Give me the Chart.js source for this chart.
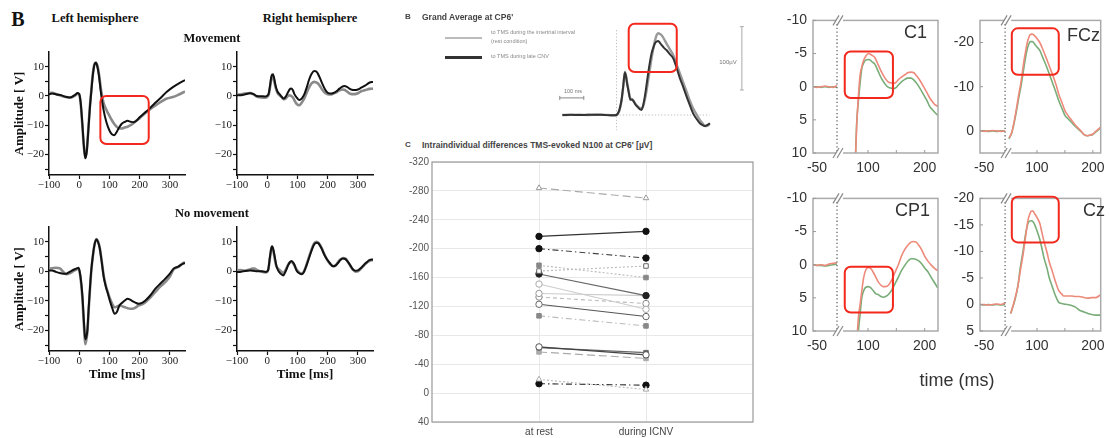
<!DOCTYPE html>
<html>
<head>
<meta charset="utf-8">
<script src="https://cdn.jsdelivr.net/npm/chart.js@4.4.1/dist/chart.umd.min.js"></script>
<style>
  html, body { margin: 0; padding: 0; background: #fff; width: 1110px; height: 438px; overflow: hidden; }
  canvas { position: absolute; }
  .t { position: absolute; white-space: nowrap; line-height: 1; }
  .c { transform: translate(-50%, -50%); }
  .m { transform: translateY(-50%); }
  .r { transform: translate(-100%, -50%); }
  .serif { font-family: "Liberation Serif", "DejaVu Serif", serif; font-weight: bold; color: #111; }
  .sans { font-family: "Liberation Sans", Arial, sans-serif; }
</style>
</head>
<body>
<!-- left panel -->
<canvas id="lhMove" width="176" height="145" style="left:12px;top:44px"></canvas>
<canvas id="rhMove" width="170" height="145" style="left:205px;top:44px"></canvas>
<canvas id="lhRest" width="176" height="165" style="left:12px;top:219px"></canvas>
<canvas id="rhRest" width="170" height="165" style="left:205px;top:219px"></canvas>
<!-- middle panel -->
<canvas id="grandAvg" width="197" height="114" style="left:554px;top:20px"></canvas>
<canvas id="n100" width="370" height="292" style="left:395px;top:150px"></canvas>
<!-- right panel -->
<canvas id="c1" width="170" height="172" style="left:775px;top:6px"></canvas>
<canvas id="fcz" width="170" height="172" style="left:942px;top:6px"></canvas>
<canvas id="cp1" width="170" height="172" style="left:775px;top:184px"></canvas>
<canvas id="cz" width="170" height="172" style="left:942px;top:184px"></canvas>

<div class="t c serif" style="left:18px;top:19px;font-size:20px">B</div>
<div class="t c serif" style="left:95px;top:18px;font-size:12.5px">Left hemisphere</div>
<div class="t c serif" style="left:310px;top:18px;font-size:12.5px">Right hemisphere</div>
<div class="t c serif" style="left:212px;top:38px;font-size:12.5px">Movement</div>
<div class="t c serif" style="left:212px;top:213px;font-size:12.5px">No movement</div>

<div class="t m sans" style="left:405px;top:17px;font-size:8px;font-weight:bold;color:#444">B</div>
<div class="t m sans" style="left:422px;top:17px;font-size:8.5px;font-weight:bold;color:#444">Grand Average at CP6'</div>
<div style="position:absolute;left:445px;top:37px;width:37px;height:1.5px;background:#bbb"></div>
<div style="position:absolute;left:445px;top:56px;width:37px;height:2.5px;background:#333"></div>
<div class="t m sans" style="left:491px;top:33px;font-size:5.5px;color:#888">to TMS during the intertrial interval</div>
<div class="t m sans" style="left:491px;top:42px;font-size:5.5px;color:#888">(rest condition)</div>
<div class="t m sans" style="left:491px;top:57px;font-size:5.5px;color:#888">to TMS during late CNV</div>
<div class="t c sans" style="left:573px;top:92px;font-size:5.5px;color:#777">100 ms</div>
<div class="t c sans" style="left:728px;top:62px;font-size:6px;color:#777">100µV</div>
<div class="t m sans" style="left:405px;top:145px;font-size:8px;font-weight:bold;color:#444">C</div>
<div class="t m sans" style="left:422px;top:145px;font-size:8.5px;font-weight:bold;color:#444">Intraindividual differences TMS-evoked N100 at CP6' [µV]</div>

<div class="t r sans" style="left:927px;top:32px;font-size:18px;color:#333">C1</div>
<div class="t r sans" style="left:1100px;top:35px;font-size:18px;color:#333">FCz</div>
<div class="t r sans" style="left:930px;top:210px;font-size:18px;color:#333">CP1</div>
<div class="t r sans" style="left:1105px;top:210px;font-size:18px;color:#333">Cz</div>
<div class="t c sans" style="left:957px;top:380px;font-size:18px;color:#333">time (ms)</div>

<script>
// ---- left panel: amplitude (µV) over time (ms), black and gray trace ----
const lhMoveTime = [-100, -90, -75, -58, -45, -30, -15, -5, 0, 5, 10, 15, 20, 25, 30, 35, 40, 45, 50, 55, 60, 65, 72, 80, 90, 100, 108, 116, 124, 132, 140, 150, 160, 170, 180, 190, 200, 215, 230, 250, 270, 290, 310, 330, 350];
const lhMoveBlack = [0.6, 0.8, 0.5, 0.2, -0.3, -0.5, 0.3, 1.0, 0.6, -2.5, -9, -16.5, -21.3, -19, -12, -4.5, 1.5, 7, 10.5, 11.3, 10, 7, 1, -4.5, -9, -11.8, -13.1, -13.4, -12.3, -10.8, -9.6, -8.9, -8.5, -8.8, -9, -8.4, -7.3, -5.9, -4.6, -2.5, -0.6, 1.4, 3, 4.3, 5.4];
const lhMoveGray = [0.9, 1.1, 0.6, 0, -0.4, -0.6, 0, 0.8, 0.5, -2.8, -9.5, -17, -21, -18.5, -11.5, -4, 2, 7.5, 10.8, 11.4, 10.4, 7.8, 2.2, -2.2, -4.8, -6.8, -8.3, -9.6, -10.5, -11.1, -11.1, -10.8, -10.5, -10, -9.2, -8.4, -7.6, -6.2, -4.9, -3.4, -2, -0.9, -0.4, 0.5, 1.5];

const rhMoveTime = [-100, -90, -75, -57, -45, -35, -20, -8, 0, 5, 10, 14, 19, 24, 28, 34, 41, 48, 55, 62, 68, 74, 79, 85, 90, 98, 106, 114, 123, 131, 139, 147, 156, 162, 167, 175, 183, 191, 200, 210, 217, 228, 239, 247, 255, 264, 272, 280, 289, 300, 311, 325, 338, 350];
const rhMoveBlack = [0.2, 0.2, 0.5, 0.9, 0.6, 0, -0.1, -0.2, 0.1, 0.8, 4, 6.8, 7.4, 5.5, 3.4, 1.5, 0.6, -0.3, -0.9, -0.1, 1.1, 2.2, 2.5, 1.9, 0.6, -0.6, -1.4, -0.9, 0.6, 3, 5.7, 7.6, 8.5, 8.4, 7.7, 6, 4, 2.3, 1.1, 0.8, 0.9, 1.5, 2.5, 3.1, 3.4, 3.1, 2.5, 2.1, 2, 2.2, 2.8, 3.6, 4.5, 4.8];
const rhMoveGray = [0.4, 0.5, 0.8, 1, 0.5, -0.2, -0.5, -0.6, -0.3, 0.5, 3.5, 6, 6.6, 4.6, 2.8, 1, 0.2, -0.5, -1.1, -0.8, 0, 0.2, 0, -0.5, -1.5, -2.8, -3.2, -2.3, -0.8, 1.2, 3, 4.3, 4.8, 4.6, 4.3, 3.3, 2, 1.1, 0.6, 0.5, 0.7, 1.2, 1.9, 2.2, 2.1, 1.5, 0.9, 0.6, 0.6, 0.9, 1.6, 2, 2.4, 2.5];

const lhRestTime = [-100, -90, -77, -64, -53, -43, -30, -17, -8, -2, 3, 7, 11, 14, 17, 20, 23, 27, 31, 35, 40, 46, 51, 57, 62, 68, 74, 81, 88, 95, 102, 109, 117, 124, 133, 144, 152, 160, 168, 176, 186, 196, 208, 219, 235, 252, 268, 285, 300, 312, 328, 344, 350];
const lhRestBlack = [0.3, 0.3, -0.2, -0.6, -0.8, -0.8, -0.1, 0.6, 1.0, 1.2, -1, -4.2, -9, -14.4, -19.5, -23, -22.5, -20, -13, -6.5, 0.5, 6, 9.2, 10.8, 10, 7.7, 3.5, -1.9, -5.2, -7.6, -10.2, -12.4, -14.4, -13.9, -11.6, -10.5, -9.8, -9.3, -9.6, -10.1, -10.6, -11, -10.7, -9.9, -8.2, -5.9, -4.2, -2.5, -0.8, 0.9, 1.6, 2.6, 2.8];
const lhRestGray = [0.9, 1.0, 1.2, 1.0, -0.2, -1.0, -0.6, 0.2, 0.7, 0.9, -1.2, -4.8, -10, -15.5, -21, -24.7, -23.5, -20.5, -13.5, -7, 0.3, 5.8, 9.2, 10.9, 10.2, 7.9, 3.8, -1.5, -4.8, -7.2, -9.3, -11, -12.2, -12, -11.6, -11.9, -12.2, -12.5, -12.7, -12.7, -12.3, -11.6, -11.2, -10.5, -8.9, -7, -5.2, -3.6, -1.8, 0.6, 1.5, 2.8, 3];

const rhRestTime = [-100, -90, -75, -57, -50, -42, -35, -20, -4, 3, 9, 13, 16, 20, 25, 30, 36, 44, 53, 61, 69, 75, 80, 88, 97, 105, 113, 121, 130, 140, 149, 156, 163, 170, 180, 188, 196, 207, 218, 226, 234, 242, 251, 259, 267, 275, 284, 292, 300, 311, 322, 330, 338, 350];
const rhRestBlack = [-0.2, -0.2, 0.1, 0.3, 0.2, 0.1, 0, 0, -0.2, 0.5, 4.9, 7.5, 8.5, 7.5, 4.9, 2, 0.3, -0.8, -1.4, 0, 2, 3.1, 3.5, 2.6, 0.3, -0.6, -1, -0.3, 2, 5, 7.7, 9.2, 9.7, 9.4, 7.7, 5.8, 4.3, 2.8, 1.7, 1.9, 2.8, 3.8, 4.3, 4.1, 3.2, 2, 0.6, 0.2, 0.3, 1.2, 2.4, 3.1, 3.8, 4];
const rhRestGray = [0.3, 0.4, 0.2, 0.6, 0.9, 0.9, 0.5, -0.1, -0.4, 0.3, 4.5, 7.5, 8.3, 7, 4.2, 1.8, 0.9, 0.1, -0.6, 0.5, 2.2, 3, 3.2, 2.4, 0.6, -0.3, -0.8, -0.2, 2.2, 5.4, 8, 9.6, 10, 9.6, 7.9, 6, 4.3, 2.6, 1.7, 2, 3, 4, 4.5, 4.3, 3.2, 1.8, 0.5, -0.1, 0, 1, 2.2, 3, 3.5, 3.8];

const eegTimeTicks = [-100, 0, 100, 200, 300];
const eegAmpTicks = [-25, -20, -15, -10, -5, 0, 5, 10];

// ---- middle panel: grand average at CP6' (µV, ms) ----
const gaTime = [-225, -190, -153, -120, -83, -50, -14, 0, 5, 12, 21, 28, 35, 40, 44, 50, 58, 65, 72, 80, 90, 97, 104, 111, 118, 125, 132, 139, 146, 153, 160, 167, 174, 181, 188, 198, 208, 222, 236, 250, 264, 278, 292, 305, 319, 333, 347, 358, 368, 378, 389];
const gaCnv = [0, 0.3, 0, 0.3, 0.5, 0, -0.5, 0, 2, 8, 23.7, 45, 67, 60, 50, 38, 24, 24, 21, 16, 12, 9, 8, 15, 29, 47, 66, 83, 97, 106, 113, 116, 117, 114, 110.5, 106, 102.6, 96, 89.5, 75, 58, 44, 29, 16, 2.6, -6, -13, -16, -17.4, -16, -13];
const gaRest = [0, 0.2, 0.3, 0, 0.4, 0.2, -0.3, 0, 1.5, 7, 22, 44, 68, 62, 52, 40, 26, 25, 22, 17, 13, 11, 10, 14, 24, 38, 55, 72, 89.5, 104, 117, 126, 129, 128, 126, 120, 113, 104, 94.7, 80, 65.8, 51, 36.8, 23, 10.5, 1, -7.9, -13, -17.4, -17, -14];

// ---- middle panel: N100 per subject, at rest vs during lCNV ----
const conditionLabels = ['at rest', 'during ICNV'];
const subjectRest = [-284, -217, -200, -177, -169, -165, -151, -138, -133, -123, -107, -64, -63, -57, -19, -13];
const subjectIcnv = [-270, -224, -187, -160, -176, -135, -116, -135, -124, -106, -93, -53, -56, -48, -5, -11];
const n100Ticks = [-320, -280, -240, -200, -160, -120, -80, -40, 0, 40];

// ---- right panel: red and green trace per electrode (µV, ms) ----
const c1Time = [-60, -50, -40, -30, -20, -10, 0, 20, 77, 80, 83, 86, 89, 92, 96, 101, 104, 108, 112, 118, 124, 130, 136, 140, 145, 150, 154, 160, 165, 170, 176, 181, 186, 192, 198, 204, 209, 214, 218, 224];
const c1Red = [0, 0.1, 0, -0.1, 0, 0.1, -0.2, null, 13, 6, 1.5, -1.7, -3, -3.9, -4.6, -5, -4.9, -4.7, -4.4, -3.3, -2.2, -1.3, -0.7, -0.6, -0.5, -0.7, -1.1, -1.5, -1.8, -2.1, -2.2, -2.1, -1.6, -0.9, 0, 0.9, 1.7, 2.3, 2.7, 3];
const c1Green = [0, 0, 0.1, 0, 0.1, 0, 0.1, null, 13, 5.5, 2.2, -0.5, -2.7, -3.5, -4, -4.1, -4, -3.7, -3.4, -2.3, -1.2, -0.4, 0.1, 0.2, 0.3, 0.1, -0.3, -0.8, -1.1, -1.3, -1.3, -1, -0.5, 0.3, 1.2, 2.1, 3, 3.5, 3.9, 4.4];

const fczTime = [-60, -50, -40, -30, -20, -10, 0, 20, 50, 55, 59, 63, 67, 72, 76, 79, 82, 85, 88, 92, 96, 100, 105, 110, 116, 122, 128, 134, 139, 145, 150, 156, 162, 168, 174, 180, 185, 190, 194, 200, 205, 211, 217, 223];
const fczRed = [0, 0.1, 0, -0.1, 0, 0.1, 0, null, 1.6, 0.3, -2, -4.8, -7.9, -11.5, -15.2, -17.5, -19.6, -21, -21.8, -21.9, -21.5, -20.9, -20, -18.6, -16.7, -14.7, -12.7, -10.5, -8.3, -6.3, -4.6, -3.4, -2.4, -1.4, -0.6, 0.2, 0.9, 1.1, 1, 0.7, 0.1, -0.5, -1.3, -1.8];
const fczGreen = [0, 0, 0.1, 0, 0.1, 0, 0, null, 1.8, 0.4, -1.7, -4.3, -7.2, -10.5, -13.8, -16.2, -18.2, -19.5, -20.2, -20.2, -19.6, -19, -18.2, -16.7, -14.9, -12.9, -10.8, -8.7, -6.8, -5, -3.5, -2.7, -1.9, -1.1, -0.4, 0.3, 0.9, 1.1, 1, 0.8, 0.3, -0.4, -1.2, -1.7];

const cp1Time = [-60, -50, -40, -30, -20, -10, 0, 20, 80, 83, 86, 89, 92, 96, 101, 105, 109, 114, 118, 123, 127, 131, 136, 142, 148, 154, 159, 165, 171, 176, 180, 185, 189, 195, 200, 206, 212, 218, 223];
const cp1Red = [0, 0.1, 0, 0.1, -0.1, -0.2, -0.3, null, 12, 8, 6, 4, 2.1, 0.8, 0.4, 0.6, 1.1, 1.9, 2.6, 3.1, 3.3, 3.3, 3.1, 2.3, 1.1, -0.1, -1.3, -2.3, -3, -3.4, -3.5, -3.4, -3, -2.2, -1.3, -0.5, 0.1, 0.6, 0.9];
const cp1Green = [0, 0.1, 0.1, 0.2, 0.1, 0, -0.1, null, 13, 10, 7.5, 5, 4, 3.4, 3.3, 3.5, 3.9, 4.4, 4.5, 4.8, 4.9, 4.8, 4.5, 3.8, 2.8, 1.8, 0.9, 0.1, -0.6, -0.9, -0.9, -0.8, -0.6, -0.1, 0.5, 1.1, 2, 2.8, 3.5];

const czTime = [-60, -50, -40, -30, -20, -10, 0, 20, 53, 57, 61, 66, 70, 75, 79, 84, 87, 90, 93, 96, 100, 105, 109, 113, 118, 122, 127, 131, 135, 139, 144, 148, 155, 162, 169, 176, 184, 191, 198, 205, 212, 219];
const czRed = [0, 0, 0.1, 0, -0.1, 0, -0.3, null, 1.7, 0.3, -1.3, -3.5, -6.2, -9.3, -12.3, -15.9, -17, -17.6, -17.6, -17.1, -16.4, -15.3, -13.5, -11.7, -9.8, -8, -6.4, -5, -3.7, -2.6, -2, -1.6, -1.6, -1.6, -1.5, -1.5, -1.3, -1.2, -1.3, -1.3, -1.7, -2.2];
const czGreen = [0, 0.1, 0, 0.1, 0, 0.1, 0, null, 1.7, 0.4, -1, -3.6, -6.8, -10, -12.9, -15.3, -15.7, -15.8, -15.6, -15, -13.9, -12.3, -10.5, -8.6, -6.8, -5, -3.5, -2.2, -1.2, -0.4, -0.2, -0.1, 0, 0.2, 0.5, 1.1, 1.4, 1.7, 1.9, 2, 2, 2];

const tmsTimeTicks = [-50, 100, 200];

// highlighted windows (data units)
const boxLhMove = { x0: 70, x1: 230, y0: 0, y1: -16.4 };
const boxGrandAvg = { x0: 51, x1: 251, y0: 144, y1: 68 };
const boxC1 = { x0: 59, x1: 144, y0: -5.3, y1: 1.7 };
const boxFcz = { x0: 55, x1: 139, y0: -23.2, y1: -12.7 };
const boxCp1 = { x0: 59, x1: 144, y0: 0.3, y1: 7.2 };
const boxCz = { x0: 55, x1: 139, y0: -20.3, y1: -11.7 };

// line style of each subject in the N100 plot
const subjectStyle = [
  { line: '#aaa', dash: [8, 4], point: 'triangle', fill: '#fff', edge: '#999' },
  { line: '#333', dash: [], point: 'circle', fill: '#111', edge: '#111' },
  { line: '#444', dash: [6, 3, 1.5, 3], point: 'circle', fill: '#111', edge: '#111' },
  { line: '#bbb', dash: [2, 2], point: 'rect', fill: '#888', edge: '#888' },
  { line: '#bbb', dash: [2, 2], point: 'rect', fill: '#fff', edge: '#666' },
  { line: '#666', dash: [], point: 'circle', fill: '#222', edge: '#222' },
  { line: '#ccc', dash: [], point: 'circle', fill: '#fff', edge: '#aaa' },
  { line: '#ccc', dash: [], point: 'circle', fill: '#fff', edge: '#999' },
  { line: '#bbb', dash: [4, 3], point: 'circle', fill: '#fff', edge: '#888' },
  { line: '#555', dash: [], point: 'circle', fill: '#fff', edge: '#666' },
  { line: '#bbb', dash: [6, 3, 1.5, 3], point: 'rect', fill: '#888', edge: '#888' },
  { line: '#444', dash: [], point: 'circle', fill: '#fff', edge: '#555' },
  { line: '#666', dash: [], point: 'rect', fill: '#666', edge: '#666' },
  { line: '#aaa', dash: [8, 4], point: 'rect', fill: '#aaa', edge: '#aaa' },
  { line: '#bbb', dash: [2, 2], point: 'triangle', fill: '#fff', edge: '#aaa' },
  { line: '#333', dash: [6, 3, 1.5, 3], point: 'circle', fill: '#111', edge: '#111' }
];

Chart.defaults.animation = false;
Chart.defaults.events = [];
Chart.defaults.plugins.legend.display = false;
Chart.defaults.plugins.tooltip.enabled = false;

function pts(times, vals) {
  return times.map((t, i) => ({ x: t, y: vals[i] }));
}

function setTicks(list) {
  return s => { s.ticks = list.map(v => ({ value: v })); };
}

function minusLabel(v) {
  return v < 0 ? '\u2212' + Math.abs(v) : String(v);
}

// x axis with a cut between gapStart and gapEnd
class BrokenScale extends Chart.LinearScale {
  getPixelForValue(value) {
    const a = this.options.gapStart, b = this.options.gapEnd, f = this.options.leftShare;
    let d;
    if (value <= a) d = (value - this.min) / (a - this.min) * f;
    else d = f + (value - b) / (this.max - b) * (1 - f);
    return this.getPixelForDecimal(d);
  }
}
BrokenScale.id = 'broken';
BrokenScale.defaults = Chart.LinearScale.defaults;
Chart.register(BrokenScale);

const redBoxPlugin = {
  id: 'redBox',
  afterDraw(chart, args, o) {
    if (o.x0 === undefined) return;
    const { ctx, scales } = chart;
    const l = scales.x.getPixelForValue(o.x0), r = scales.x.getPixelForValue(o.x1);
    const t = scales.y.getPixelForValue(o.y0), b = scales.y.getPixelForValue(o.y1);
    ctx.save();
    ctx.strokeStyle = '#f2291c';
    ctx.lineWidth = 2;
    ctx.beginPath();
    ctx.roundRect(Math.min(l, r), Math.min(t, b), Math.abs(r - l), Math.abs(b - t), 6);
    ctx.stroke();
    ctx.restore();
  }
};

const framePlugin = {
  id: 'frame',
  afterDraw(chart, args, o) {
    const a = chart.chartArea, ctx = chart.ctx;
    ctx.save();
    ctx.strokeStyle = o.color || '#aaa';
    ctx.lineWidth = o.width || 1.5;
    ctx.strokeRect(a.left, a.top, a.right - a.left, a.bottom - a.top);
    ctx.restore();
  }
};

function line(ctx, x1, y1, x2, y2) {
  ctx.beginPath();
  ctx.moveTo(x1, y1);
  ctx.lineTo(x2, y2);
  ctx.stroke();
}

// onset line, inner ticks and the // marks of the cut axis
const breakPlugin = {
  id: 'brk',
  afterDraw(chart) {
    const { ctx, chartArea: a, scales } = chart;
    const xb = scales.x.getPixelForValue(0);
    ctx.save();
    ctx.strokeStyle = '#666';
    ctx.lineWidth = 1.3;
    ctx.setLineDash([1.3, 2.4]);
    line(ctx, xb, a.top, xb, a.bottom);
    ctx.setLineDash([]);
    ctx.strokeStyle = '#999';
    ctx.lineWidth = 1;
    [100, 150, 200].forEach(v => {
      const px = scales.x.getPixelForValue(v);
      line(ctx, px, a.bottom, px, a.bottom - 3);
    });
    scales.y.ticks.forEach(t => {
      const py = scales.y.getPixelForValue(t.value);
      line(ctx, a.left, py, a.left + 3, py);
    });
    [a.top, a.bottom].forEach(y => {
      ctx.fillStyle = '#fff';
      ctx.fillRect(xb - 1, y - 2, 7, 4);
      ctx.strokeStyle = '#888';
      ctx.lineWidth = 1.2;
      line(ctx, xb - 4, y + 5, xb + 2, y - 5);
      line(ctx, xb, y + 5, xb + 6, y - 5);
    });
    ctx.restore();
  }
};

// dotted reference lines and scale bars of the grand average
const gaMarksPlugin = {
  id: 'gaMarks',
  beforeDatasetsDraw(chart) {
    const { ctx, scales: { x, y } } = chart;
    ctx.save();
    ctx.strokeStyle = '#bbb';
    ctx.lineWidth = 1;
    ctx.setLineDash([1.2, 2]);
    line(ctx, x.getPixelForValue(0), y.getPixelForValue(134), x.getPixelForValue(0), y.getPixelForValue(-24));
    line(ctx, x.getPixelForValue(0), y.getPixelForValue(0), x.getPixelForValue(388), y.getPixelForValue(0));
    ctx.setLineDash([]);
    ctx.strokeStyle = '#888';
    const by = y.getPixelForValue(27);
    const bl = x.getPixelForValue(-236), br = x.getPixelForValue(-136);
    line(ctx, bl, by, br, by);
    line(ctx, bl, by - 2, bl, by + 2);
    line(ctx, br, by - 2, br, by + 2);
    const vx = x.getPixelForValue(522);
    const vt = y.getPixelForValue(139.5), vb = y.getPixelForValue(39.5);
    ctx.strokeStyle = '#aaa';
    line(ctx, vx, vt, vx, vb);
    line(ctx, vx - 2, vt, vx + 2, vt);
    line(ctx, vx - 2, vb, vx + 2, vb);
    ctx.restore();
  }
};

const serifTick = { family: '"Liberation Serif", serif', size: 11 };
const serifTitle = { family: '"Liberation Serif", serif', size: 13, weight: 'bold' };

function eegChart(id, times, black, gray, opt) {
  new Chart(document.getElementById(id), {
    type: 'line',
    data: {
      datasets: [
        { data: pts(times, black), borderColor: '#111', borderWidth: 2, cubicInterpolationMode: 'monotone' },
        { data: pts(times, gray), borderColor: '#8a8a8a', borderWidth: 2.6, cubicInterpolationMode: 'monotone' }
      ]
    },
    options: {
      responsive: false,
      layout: { padding: { top: 8, right: opt.padRight } },
      elements: { point: { radius: 0 } },
      plugins: { redBox: opt.box || {} },
      scales: {
        x: {
          type: 'linear', min: -100, max: 350,
          afterBuildTicks: setTicks(eegTimeTicks),
          afterFit: s => { s.height = opt.xHeight; },
          ticks: { font: serifTick, color: '#222', padding: 0, autoSkip: false, maxRotation: 0, callback: minusLabel },
          grid: { drawOnChartArea: false, tickLength: 4, color: '#111', tickWidth: 1.2 },
          border: { color: '#111', width: 1.5 },
          title: { display: opt.xTitle, text: 'Time [ms]', font: serifTitle, color: '#111', padding: { top: 0, bottom: 2 } }
        },
        y: {
          min: -27, max: 15,
          afterBuildTicks: setTicks(eegAmpTicks),
          afterFit: s => { s.width = opt.yWidth; },
          ticks: { font: serifTick, color: '#222', padding: 1, autoSkip: false, callback: v => (v % 10 === 0 ? minusLabel(v) : '') },
          grid: { drawOnChartArea: false, tickLength: 4, color: '#111', tickWidth: 1.2 },
          border: { color: '#111', width: 1.5 },
          title: { display: opt.yTitle, text: 'Amplitude [ V]', font: serifTitle, color: '#111', padding: 0 }
        }
      }
    },
    plugins: [redBoxPlugin]
  });
}

eegChart('lhMove', lhMoveTime, lhMoveBlack, lhMoveGray, { padRight: 3, xHeight: 14, yWidth: 37, yTitle: true, xTitle: false, box: boxLhMove });
eegChart('rhMove', rhMoveTime, rhMoveBlack, rhMoveGray, { padRight: 2, xHeight: 14, yWidth: 32, yTitle: false, xTitle: false });
eegChart('lhRest', lhRestTime, lhRestBlack, lhRestGray, { padRight: 3, xHeight: 33, yWidth: 37, yTitle: true, xTitle: true });
eegChart('rhRest', rhRestTime, rhRestBlack, rhRestGray, { padRight: 2, xHeight: 33, yWidth: 32, yTitle: false, xTitle: true });

// grand average
new Chart(document.getElementById('grandAvg'), {
  type: 'line',
  data: {
    datasets: [
      { data: pts(gaTime, gaCnv), borderColor: '#333', borderWidth: 2, cubicInterpolationMode: 'monotone' },
      { data: pts(gaTime, gaRest), borderColor: '#9a9a9a', borderWidth: 2.4, cubicInterpolationMode: 'monotone' }
    ]
  },
  options: {
    responsive: false,
    layout: { padding: 0 },
    elements: { point: { radius: 0 } },
    plugins: { redBox: boxGrandAvg },
    scales: {
      x: { type: 'linear', display: false, min: -260, max: 560 },
      y: { display: false, min: -30, max: 150 }
    }
  },
  plugins: [gaMarksPlugin, redBoxPlugin]
});

// N100 per subject
const sansTick = { family: '"Liberation Sans", Arial, sans-serif', size: 10 };
new Chart(document.getElementById('n100'), {
  type: 'line',
  data: {
    datasets: subjectRest.map((rest, i) => {
      const st = subjectStyle[i];
      return {
        data: [{ x: 1, y: rest }, { x: 2, y: subjectIcnv[i] }],
        borderColor: st.line, borderDash: st.dash, borderWidth: 1.1,
        pointStyle: st.point, pointRadius: 3.2, pointBorderWidth: 1,
        pointBackgroundColor: st.fill, pointBorderColor: st.edge
      };
    })
  },
  options: {
    responsive: false,
    layout: { padding: { top: 12, right: 12 } },
    plugins: { frame: { color: '#999', width: 1.2 } },
    scales: {
      x: {
        type: 'linear', min: 0, max: 3,
        afterBuildTicks: setTicks([1, 2]),
        afterFit: s => { s.height = 20; },
        ticks: { font: sansTick, color: '#444', padding: 4, autoSkip: false, maxRotation: 0, callback: v => conditionLabels[v - 1] },
        grid: { color: '#e8e8e8', drawTicks: false },
        border: { display: false }
      },
      y: {
        reverse: true, min: -320, max: 40,
        afterBuildTicks: setTicks(n100Ticks),
        afterFit: s => { s.width = 37; },
        ticks: { font: sansTick, color: '#555', padding: 3, autoSkip: false },
        grid: { color: '#e8e8e8', drawTicks: false },
        border: { display: false }
      }
    }
  },
  plugins: [framePlugin]
});

// right panel electrodes
const tmsFont = { family: '"Liberation Sans", Arial, sans-serif', size: 14 };
function tmsChart(id, times, red, green, cfg) {
  new Chart(document.getElementById(id), {
    type: 'line',
    data: {
      datasets: [
        { data: pts(times, red), borderColor: '#ee8a7b', borderWidth: 1.6, cubicInterpolationMode: 'monotone' },
        { data: pts(times, green), borderColor: '#78ad78', borderWidth: 1.6, cubicInterpolationMode: 'monotone' }
      ]
    },
    options: {
      responsive: false,
      spanGaps: false,
      layout: { padding: { top: 10, right: 7 } },
      elements: { point: { radius: 0 } },
      plugins: { redBox: cfg.box, frame: { color: '#aaa', width: 1.5 } },
      scales: {
        x: {
          type: 'broken', min: -60, max: cfg.xMax, gapStart: 0, gapEnd: cfg.gapEnd, leftShare: cfg.share,
          afterBuildTicks: setTicks(tmsTimeTicks),
          afterFit: s => { s.height = 25; },
          ticks: { font: tmsFont, color: '#333', padding: 7, autoSkip: false, maxRotation: 0 },
          grid: { display: false, drawTicks: false },
          border: { display: false }
        },
        y: {
          reverse: true, min: cfg.yMin, max: cfg.yMax,
          afterBuildTicks: setTicks(cfg.yTicks),
          afterFit: s => { s.width = 38; },
          ticks: { font: tmsFont, color: '#333', padding: 6, autoSkip: false },
          grid: { display: false, drawTicks: false },
          border: { display: false }
        }
      }
    },
    plugins: [framePlugin, breakPlugin, redBoxPlugin]
  });
}

tmsChart('c1', c1Time, c1Red, c1Green, { xMax: 223.5, gapEnd: 45.3, share: 0.192, yMin: -10, yMax: 10, yTicks: [-10, -5, 0, 5, 10], box: boxC1 });
tmsChart('fcz', fczTime, fczRed, fczGreen, { xMax: 214, gapEnd: 43, share: 0.208, yMin: -25, yMax: 5, yTicks: [-20, -10, 0], box: boxFcz });
tmsChart('cp1', cp1Time, cp1Red, cp1Green, { xMax: 223.5, gapEnd: 45.3, share: 0.192, yMin: -10, yMax: 10, yTicks: [-10, -5, 0, 5, 10], box: boxCp1 });
tmsChart('cz', czTime, czRed, czGreen, { xMax: 214, gapEnd: 43, share: 0.208, yMin: -20, yMax: 5, yTicks: [-20, -15, -10, -5, 0, 5], box: boxCz });
</script>
</body>
</html>
